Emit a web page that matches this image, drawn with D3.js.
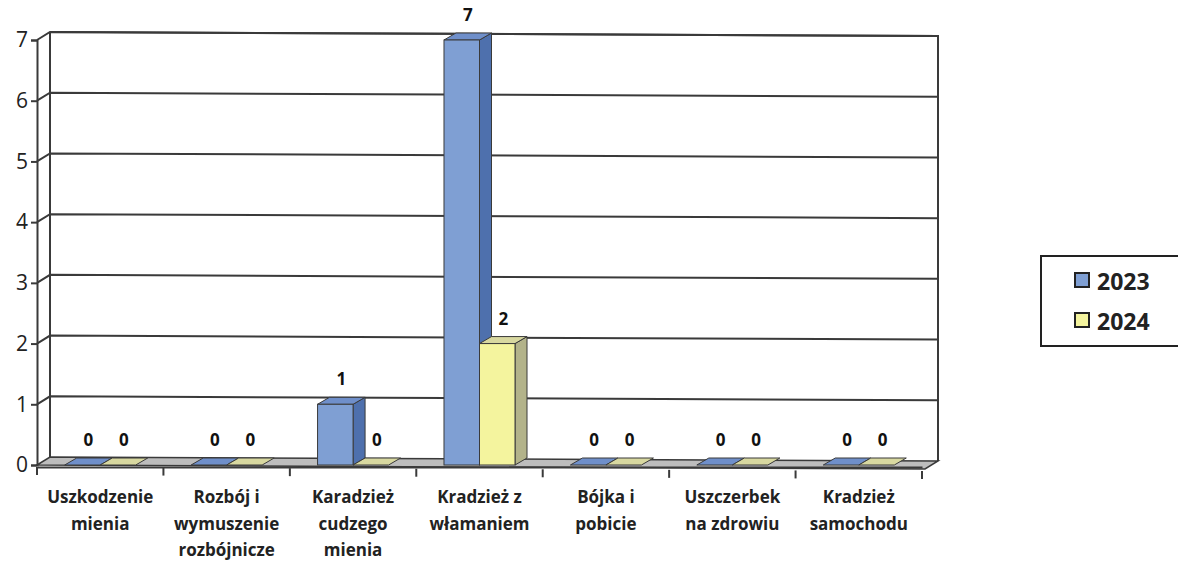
<!DOCTYPE html>
<html><head><meta charset="utf-8">
<script src="https://cdn.jsdelivr.net/npm/d3@7"></script>
<style>body{margin:0;background:#fff}svg{display:block}</style>
</head><body>
<svg id="c" width="1178" height="561"></svg>
<script>
const categories = [["Uszkodzenie","mienia"],["Rozbój i","wymuszenie","rozbójnicze"],["Karadzież","cudzego","mienia"],["Kradzież z","włamaniem"],["Bójka i","pobicie"],["Uszczerbek","na zdrowiu"],["Kradzież","samochodu"]];
const seriesNames = ["2023","2024"];
const values2023 = [0,0,1,7,0,0,0];
const values2024 = [0,0,0,2,0,0,0];
const yTicks = [0,1,2,3,4,5,6,7];

const svg = d3.select("#c");
const X0 = 37, X1 = 922, DX = 13, DY = -8;
const catNames = categories.map(c => c.join(" "));
const x = d3.scaleBand().domain(catNames).range([X0, X1]);
const xs = d3.scaleBand().domain(seriesNames).range([0, x.bandwidth()]).paddingOuter(0.78);
const y = d3.scaleLinear().domain([0,7]).range([465, 40]);
const stroke = "#3a3a3a";
const font = "'Open Sans',sans-serif";

// back wall
svg.append("path").attr("d", `M${X0+DX},${y(7)+DY}L${X1+DX+3},${y(7)+DY+4}L${X1+DX+3},${y(0)+DY+4}`)
  .attr("fill","none").attr("stroke",stroke).attr("stroke-width",2);
yTicks.forEach(t => {
  if (t>0) svg.append("path").attr("d", `M${X0},${y(t)}L${X0+DX},${y(t)+DY}L${X1+DX+3},${y(t)+DY+4}`)
    .attr("fill","none").attr("stroke",stroke).attr("stroke-width",2);
});
svg.append("line").attr("x1",X0+DX).attr("x2",X0+DX).attr("y1",y(7)+DY).attr("y2",y(0)+DY)
  .attr("stroke",stroke).attr("stroke-width",2);

// floor slab
const fl = `M${X0},${y(0)}L${X0+DX},${y(0)+DY}L${X1+DX+3},${y(0)+DY+4}L${X1+3},${y(0)+4}Z`;
svg.append("path").attr("d", fl).attr("fill","#bdbdbd").attr("stroke",stroke).attr("stroke-width",1.5);

// y axis (front)
const ya = svg.append("g").attr("transform",`translate(${X0},0)`)
  .call(d3.axisLeft(y).tickValues(yTicks).tickSize(6).tickFormat(d3.format("d")));
ya.select(".domain").attr("stroke",stroke).attr("stroke-width",2);
ya.selectAll(".tick line").attr("stroke",stroke).attr("stroke-width",2);
ya.selectAll(".tick text").attr("font-family",font).attr("font-size",21).attr("fill","#222").attr("x",-9);

// x axis (front)
const xa = svg.append("g").attr("transform",`translate(0,${y(0)+2})`)
  .call(d3.axisBottom(x).tickSize(0).tickFormat(""));
xa.select(".domain").attr("stroke",stroke).attr("stroke-width",2);
const tickXs = d3.range(catNames.length+1).map(i => X0 + i*x.step());
svg.selectAll(".xt").data(tickXs).join("line").attr("x1",d=>d).attr("x2",d=>d)
  .attr("y1",d=>y(0)+2+ (d-X0)/(X1-X0)*4).attr("y2",d=>y(0)+10+(d-X0)/(X1-X0)*4)
  .attr("stroke",stroke).attr("stroke-width",2);

// bars
const colors = {"2023":{front:"#7f9fd3",side:"#4e70ad",top:"#6f8fca"},"2024":{front:"#f4f49e",side:"#b3b38a",top:"#d8d8a0"}};
const data = [];
catNames.forEach((c,i) => {
  data.push({cat:c, s:"2023", v:values2023[i]});
  data.push({cat:c, s:"2024", v:values2024[i]});
});
const bw = xs.bandwidth();
const ddx = 12, ddy = -7;
const gb = svg.append("g");
data.forEach(d => {
  const x0 = x(d.cat) + xs(d.s), x1 = x0 + bw;
  const yb = y(0), yt = y(d.v);
  const col = colors[d.s];
  const g = gb.append("g");
  if (d.v > 0) {
    g.append("path").attr("d",`M${x1},${yt}L${x1+ddx},${yt+ddy}L${x1+ddx},${yb+ddy}L${x1},${yb}Z`).attr("fill",col.side).attr("stroke",stroke).attr("stroke-width",1);
    g.append("path").attr("d",`M${x0},${yt}L${x0+ddx},${yt+ddy}L${x1+ddx},${yt+ddy}L${x1},${yt}Z`).attr("fill",col.top).attr("stroke",stroke).attr("stroke-width",1);
    g.append("rect").attr("x",x0).attr("y",yt).attr("width",bw).attr("height",yb-yt).attr("fill",col.front).attr("stroke",stroke).attr("stroke-width",1);
  } else {
    g.append("path").attr("d",`M${x0},${yb}L${x0+ddx},${yb+ddy}L${x1+ddx},${yb+ddy}L${x1},${yb}Z`).attr("fill",col.top).attr("stroke",stroke).attr("stroke-width",1);
  }
  g.append("text").attr("x",(x0+x1)/2 + ddx/2).attr("y", yt + ddy - 12)
    .attr("text-anchor","middle").attr("font-family",font).attr("font-weight","bold")
    .attr("font-size",17).attr("fill","#111").text(d.v);
});

// category labels
categories.forEach((lines,i) => {
  const cx = x(catNames[i]) + x.bandwidth()/2;
  const t = svg.append("text").attr("text-anchor","middle").attr("font-family",font)
    .attr("font-weight","bold").attr("font-size",17).attr("fill","#222");
  lines.forEach((l,j) => t.append("tspan").attr("x",cx).attr("y",503 + j*26.5).text(l));
});

// legend
const lg = svg.append("g");
lg.append("rect").attr("x",1041).attr("y",256).attr("width",145).attr("height",90).attr("fill","#fff").attr("stroke","#222").attr("stroke-width",2);
seriesNames.forEach((s,i) => {
  const yy = 273 + i*40;
  lg.append("rect").attr("x",1075).attr("y",yy).attr("width",14).attr("height",14).attr("fill",colors[s].front).attr("stroke","#222").attr("stroke-width",2);
  lg.append("text").attr("x",1097).attr("y",yy+17).attr("font-family",font).attr("font-weight","bold").attr("font-size",23).attr("fill","#222").text(s);
});
</script>
</body></html>
